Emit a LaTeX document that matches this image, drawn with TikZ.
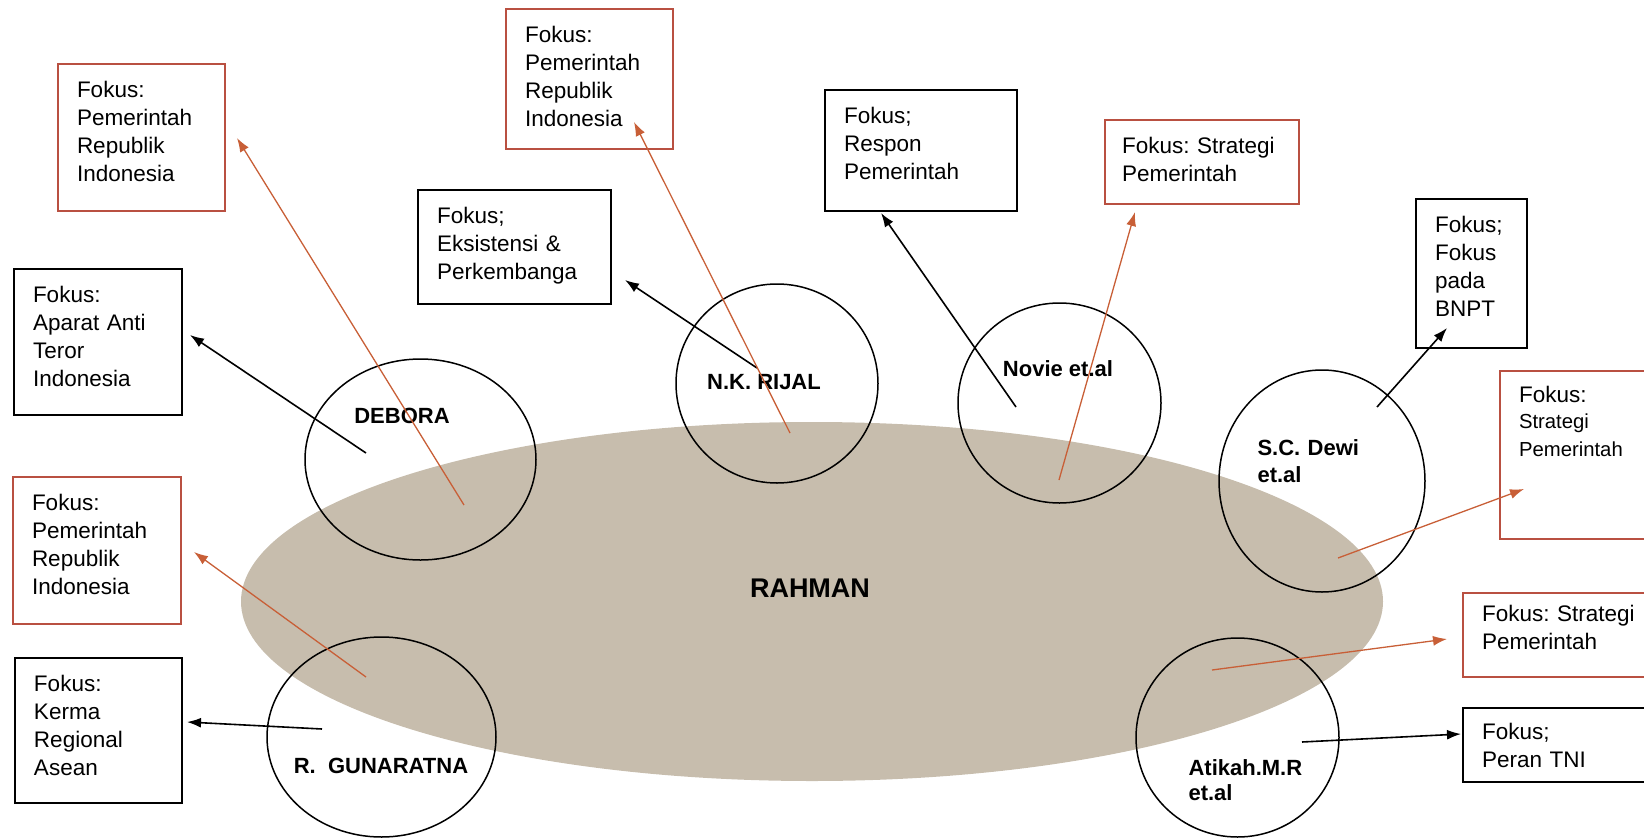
\documentclass[tikz,border=0pt]{standalone}
\usepackage{fontspec}
\setmainfont{Liberation Sans}
\usepackage{tikz}
\usetikzlibrary{calc, arrows.meta, positioning}
\definecolor{boxred}{RGB}{185,80,65}
\definecolor{arrred}{RGB}{200,95,55}
\definecolor{rahmanfill}{RGB}{199,189,173}
\frenchspacing
\tikzset{
    focus/.style = {draw, line width=2.6pt, outer sep=0pt, anchor=north west, align=left, inner xsep=19pt, inner ysep=17pt, text height=16pt, font=\fontsize{22.5}{28.3}\selectfont}, % text sits at the top left of each box
    blackbox/.style = {focus, draw=black},
    redbox/.style = {focus, draw=boxred},
    author/.style = {font=\bfseries\fontsize{22}{27}\selectfont, align=left},
    ring/.style = {line width=1.5pt},
    arr/.style = {-{Latex[length=14pt,width=10pt]}, line width=1.6pt},
    redarr/.style = {arr, draw=arrred, line width=1.3pt}
}
\begin{document}
\begin{tikzpicture}[x=1pt, y=-1pt]
        \useasboundingbox (0,0) rectangle (1644,838);
        \clip (0,0) rectangle (1644,838);

        %main ellipse

        \fill[rahmanfill] (812,601.5) ellipse [x radius=571pt, y radius=179.5pt];
        \node[font=\bfseries\fontsize{27}{32}\selectfont] (rahman) at (810,588) {RAHMAN};

        %circles

        \coordinate (cDeb) at (420.5,459.5);
        \coordinate (cRij) at (777,383.5);
        \coordinate (cNov) at (1059.5,403);
        \coordinate (cDew) at (1322,481);
        \coordinate (cGun) at (381.5,737);
        \coordinate (cAti) at (1237.5,737.5);
        \draw[ring] (cDeb) ellipse [x radius=115.5pt, y radius=100.5pt];
        \draw[ring] (cRij) ellipse [x radius=101pt, y radius=99.5pt];
        \draw[ring] (cNov) ellipse [x radius=101.5pt, y radius=100pt];
        \draw[ring] (cDew) ellipse [x radius=103pt, y radius=111pt];
        \draw[ring] (cGun) ellipse [x radius=114.5pt, y radius=100pt];
        \draw[ring] (cAti) ellipse [x radius=101.5pt, y radius=99.5pt];

        \node[author] (debora) at (402,416) {DEBORA};
        \node[author] (rijal) at (764,382) {N.K. RIJAL};
        \node[author] (novie) at (1058,369) {Novie et.al};
        \node[author, text width=130pt, anchor=base west] (dewi) at (1254,455) {S.C. Dewi\\et.al};
        \node[author] (guna) at (381,766) {R.\ \ GUNARATNA};
        \node[author, text width=140pt, anchor=base west, font=\bfseries\fontsize{22}{25.5}\selectfont] (atikah) at (1185,775) {Atikah.M.R\\et.al};

        %boxes

        \node[redbox, text width=129pt, text depth=97pt] (debTop) at (58,64) {Fokus:\\Pemerintah\\Republik\\Indonesia};
        \node[redbox, text width=129pt, text depth=90pt] (rijTop) at (506,9) {Fokus:\\Pemerintah\\Republik\\Indonesia};
        \node[blackbox, text width=155pt, text depth=64pt] (eks) at (418,190) {Fokus;\\Eksistensi \&\\Perkembanga};
        \node[blackbox, text width=154pt, text depth=71pt] (resp) at (825,90) {Fokus;\\Respon\\Pemerintah};
        \node[redbox, inner xsep=17pt, text width=160pt, text depth=34pt] (strTop) at (1105,120) {Fokus: Strategi\\Pemerintah};
        \node[blackbox, text width=73pt, text depth=99pt] (bnpt) at (1416,199) {Fokus;\\Fokus\\pada\\BNPT};
        \node[redbox, inner ysep=15pt, text width=142pt, text depth=122pt] (strRight) at (1500,371) {Fokus:\\\fontsize{20.3}{26}\selectfont Strategi\\Pemerintah};
        \node[redbox, inner ysep=12pt, text width=162pt, text depth=44pt] (strLow) at (1463,593) {Fokus: Strategi\\Pemerintah};
        \node[blackbox, inner ysep=15pt, text width=152pt, text depth=28pt] (tni) at (1463,708) {Fokus;\\Peran TNI};
        \node[blackbox, text width=130pt, text depth=96pt] (aparat) at (14,269) {Fokus:\\Aparat Anti\\Teror\\Indonesia};
        \node[redbox, text width=130pt, text depth=97pt] (leftRed) at (13,477) {Fokus:\\Pemerintah\\Republik\\Indonesia};
        \node[blackbox, text width=129pt, text depth=95pt] (kerma) at (15,658) {Fokus:\\Kerma\\Regional\\Asean};

        %arrow ends

        \coordinate (debA) at (366,453);
        \coordinate (debB) at (464,505);
        \coordinate (rijA) at (757,368);
        \coordinate (rijB) at (790,433);
        \coordinate (novA) at (1016,407);
        \coordinate (novB) at (1059,480);
        \coordinate (dewA) at (1377,407);
        \coordinate (dewB) at (1338,558);
        \coordinate (atiA) at (1212,670);
        \coordinate (atiB) at (1302,742);
        \coordinate (gunA) at (366,677);
        \coordinate (gunB) at (322,729);

        \coordinate (aparatIn) at ($(aparat.north east)+(8,66)$);
        \coordinate (debTopIn) at ($(debTop.north east)+(12,74)$);
        \coordinate (eksIn) at ($(eks.north east)+(14,90)$);
        \coordinate (rijTopIn) at ($(rijTop.north east)+(-39,113)$);
        \coordinate (respIn) at ($(resp.south west)+(56,2)$);
        \coordinate (strTopIn) at ($(strTop.south west)+(30,8)$);
        \coordinate (bnptIn) at ($(bnpt.south west)+(31,-20)$);
        \coordinate (strRightIn) at ($(strRight.north west)+(24,118)$);
        \coordinate (strLowIn) at ($(strLow.north west)+(-16,46)$);
        \coordinate (tniIn) at ($(tni.north west)+(-2,26)$);
        \coordinate (leftRedIn) at ($(leftRed.north east)+(13,75)$);
        \coordinate (kermaIn) at ($(kerma.north east)+(5,64)$);

        %arrows

        \draw[arr] (debA) -- (aparatIn);
        \draw[redarr] (debB) -- (debTopIn);
        \draw[arr] (rijA) -- (eksIn);
        \draw[redarr] (rijB) -- (rijTopIn);
        \draw[arr] (novA) -- (respIn);
        \draw[redarr] (novB) -- (strTopIn);
        \draw[arr] (dewA) -- (bnptIn);
        \draw[redarr] (dewB) -- (strRightIn);
        \draw[redarr] (atiA) -- (strLowIn);
        \draw[arr] (atiB) -- (tniIn);
        \draw[redarr] (gunA) -- (leftRedIn);
        \draw[arr] (gunB) -- (kermaIn);
    \end{tikzpicture}
\end{document}
